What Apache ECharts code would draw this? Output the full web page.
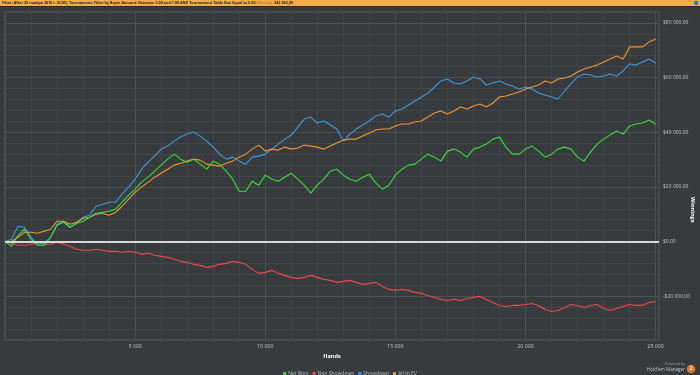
<!DOCTYPE html>
<html><head><meta charset="utf-8">
<script src="https://cdn.jsdelivr.net/npm/echarts@6/dist/echarts.min.js"></script>
<style>html,body{margin:0;padding:0;background:#383b3e;}#c{width:700px;height:375px;}</style>
</head><body><div id="c"></div>
<script>
const hands = [0,250,500,750,1000,1250,1500,1750,2000,2250,2500,2750,3000,3250,3500,3750,4000,4250,4500,4750,5000,5250,5500,5750,6000,6250,6500,6750,7000,7250,7500,7750,8000,8250,8500,8750,9000,9250,9500,9750,10000,10250,10500,10750,11000,11250,11500,11750,12000,12250,12500,12750,13000,13250,13500,13750,14000,14250,14500,14750,15000,15250,15500,15750,16000,16250,16500,16750,17000,17250,17500,17750,18000,18250,18500,18750,19000,19250,19500,19750,20000,20250,20500,20750,21000,21250,21500,21750,22000,22250,22500,22750,23000,23250,23500,23750,24000,24250,24500,24750,25000];
const netWon = [0,-1720,2310,4510,840,-1360,-1360,1580,5980,7080,5240,6710,7440,8910,10370,10740,11110,11840,14410,16970,19170,21740,23570,25770,27970,30170,32000,30170,29070,30170,28340,26500,29440,28340,25770,22840,18440,18440,22110,20640,24310,22840,22110,23570,25040,22840,20640,17710,20640,22840,25770,26500,24310,22840,22110,23570,24670,21370,19170,20640,24310,26500,27970,28340,30170,32000,30900,29440,33100,33840,32740,30900,33840,34570,35670,37500,38240,34570,32000,32000,33840,34940,33100,30900,32000,33840,34570,33840,30900,29440,32740,35670,37500,38970,40440,39340,42270,43000,43370,44470,43000];
const nonShowdown = [0,-620,-1360,-1360,-990,-620,-990,-990,-260,-990,-1720,-2820,-3190,-3190,-2820,-3190,-3560,-3560,-3920,-3560,-3920,-4660,-4290,-5020,-5390,-5760,-6490,-7220,-7590,-8320,-8690,-9420,-9060,-8320,-7960,-7220,-7590,-8320,-10150,-11620,-11250,-10520,-11620,-12350,-13090,-13450,-13090,-12350,-13090,-13820,-14190,-14920,-14550,-14190,-14920,-15650,-15290,-14920,-16390,-17490,-17850,-17490,-17850,-18590,-18950,-19690,-20420,-21150,-21520,-21150,-21520,-20790,-20420,-20050,-21150,-22250,-23350,-23720,-23350,-23350,-22990,-22620,-23350,-24820,-25550,-25190,-24090,-22990,-23350,-24090,-23350,-22990,-24450,-25190,-24450,-23720,-22990,-23350,-23350,-22250,-21890];
const showdown = [0,840,5610,5240,1580,-990,-620,1580,6340,7440,5240,6710,8910,9640,12940,13670,14410,14410,17340,19910,22840,26500,29070,31270,33840,34940,36770,38240,39340,40070,38600,36770,34570,32000,30170,30900,29440,28340,30900,31270,32000,33840,35670,37500,38970,41900,44840,45570,43370,44100,42640,41170,36770,39340,41170,42640,44100,45930,46670,45570,47770,48500,49970,51430,52900,54370,56570,58770,59500,58030,57670,58770,60230,59500,57300,58030,58770,57670,56930,55830,56570,55830,54370,53630,52900,52170,55100,57670,60230,61330,60970,60230,60600,61330,60600,62430,65000,64630,65730,66830,65360];
const allInEV = [0,110,1580,3410,3410,3040,3780,4510,7440,7440,6340,7080,8540,8910,10010,10370,9640,10740,12940,15510,18070,19910,21740,23570,25040,26500,27970,28700,29440,30170,29800,28340,27970,27600,28700,29440,30900,32000,33840,35300,33100,33840,33470,34570,33840,34200,35300,34940,34570,33840,34940,36040,37140,37500,37500,38600,39700,40800,41170,41170,42270,43000,43000,43730,44100,45570,47040,47770,46670,47770,49230,48500,49600,50330,49230,50700,52900,53270,54000,54730,55830,56570,57300,58770,58030,59500,59870,60600,62060,63170,63900,64630,65730,66830,67930,66830,71230,71230,71230,73060,74160];
const seriesNames = ['Net Won','Non Showdown','Showdown','All-In EV'];
const xTickLabels = ['5 000','10 000','15 000','20 000','25 000'];
const yTickLabels = ['-$20 000,00','$0,00','$20 000,00','$40 000,00','$60 000,00','$80 000,00'];
const headerText = 'Filter: After 25 ноября 2016 г. (0:00); Tournament: Filter by Buyin Amount: Between 5.00 and 7.00 AND Tournament Table Size Equal to 5.00 ';
const headerValue = '$42 036,00';

const colors = {net:'#33e033', ns:'#e84a4a', sd:'#3a9ade', ev:'#f2942e'};
const minor = '#43474b', major = '#4c5054';
const FONT = 'Open Sans';
function pts(arr){ return hands.map((h,i)=>[h, arr[i]]); }

// fit header text into the width it occupies in the bar
const mctx = document.createElement('canvas').getContext('2d');
mctx.font = 'bold 5px "Open Sans"';
let hw = mctx.measureText(headerText + headerValue).width;
mctx.font = '5px "Open Sans"';
hw += mctx.measureText('Winnings: ').width;
const headerScale = 291 / hw;

const chart = echarts.init(document.getElementById('c'), null, {renderer:'canvas'});
chart.setOption({
  backgroundColor:'#383b3e',
  animation:false,
  textStyle:{fontFamily:FONT},
  grid:{left:5, right:41, top:12, bottom:35, show:true, borderColor:'#565a5e', borderWidth:1, backgroundColor:'transparent'},
  legend:{
    data:seriesNames, left:'center', top:366, icon:'rect', itemWidth:3, itemHeight:3, itemGap:4,
    textStyle:{color:'#b8bcc0', fontSize:5, fontFamily:FONT, padding:[0,0,0,-3]}
  },
  xAxis:{
    type:'value', min:0, max:25130, interval:1000,
    axisLine:{show:false}, axisTick:{show:false},
    splitLine:{show:true, lineStyle:{color:[major,minor,minor,minor,minor], width:1}},
    axisLabel:{color:'#c0c4c8', fontSize:5.3, fontFamily:FONT, margin:4,
      formatter:v=>{ if(v>0 && v%5000===0){ return xTickLabels[v/5000-1]; } return ''; }},
    name:'Hands', nameLocation:'middle', nameGap:12,
    nameTextStyle:{color:'#ffffff', fontSize:5.5, fontWeight:'bold', fontFamily:FONT}
  },
  yAxis:{
    type:'value', position:'right', min:-36000, max:84000, interval:4000,
    axisLine:{show:false}, axisTick:{show:false},
    splitLine:{show:true, lineStyle:{color:[minor,minor,minor,minor,major], width:1}},
    axisLabel:{color:'#c0c4c8', fontSize:5, fontFamily:FONT, margin:4,
      formatter:v=>{ if(v%20000===0 && v>=-20000 && v<=80000){ return yTickLabels[(v+20000)/20000]; } return ''; }}
  },
  series:[
    {name:'Non Showdown', type:'line', data:pts(nonShowdown), showSymbol:false, lineStyle:{color:colors.ns,width:1.1}, itemStyle:{color:colors.ns}, z:2},
    {name:'Showdown', type:'line', data:pts(showdown), showSymbol:false, lineStyle:{color:colors.sd,width:1.1}, itemStyle:{color:colors.sd}, z:2},
    {name:'All-In EV', type:'line', data:pts(allInEV), showSymbol:false, lineStyle:{color:colors.ev,width:1.1}, itemStyle:{color:colors.ev}, z:3},
    {name:'Net Won', type:'line', data:pts(netWon), showSymbol:false, lineStyle:{color:colors.net,width:1.1}, itemStyle:{color:colors.net}, z:4,
      markLine:{silent:true, symbol:'none', label:{show:false}, lineStyle:{color:'#d8d8d8', width:2, type:'solid'}, data:[{yAxis:0}], z:10}}
  ],
  graphic:[
    {type:'rect', left:0, top:0, shape:{width:700, height:6}, style:{fill:'#f2ad4a'}, z:100},
    {type:'rect', left:0, top:6, shape:{width:700, height:1}, style:{fill:'#2a2c2e'}, z:100},
    {type:'text', x:2, y:0.7, scaleX:headerScale, scaleY:0.85, z:101, style:{
      text:'{a|'+headerText+'}{b|Winnings: }{a|'+headerValue+'}',
      rich:{a:{fontSize:5, fontWeight:'bold', fill:'#2a2520', fontFamily:FONT}, b:{fontSize:5, fill:'#8a6a3a', fontFamily:FONT}}
    }},
    {type:'circle', shape:{cx:696, cy:3, r:2.3}, style:{fill:'#2f7fd0'}, z:101},
    {type:'text', left:690, top:197, rotation:-Math.PI/2, z:50, style:{text:'Winnings', fontSize:5.5, fontWeight:'bold', fill:'#ffffff', fontFamily:FONT}},
    {type:'text', right:15, top:362, z:50, style:{text:'Powered by', fontSize:3.6, fill:'#9a9ea2', fontFamily:FONT}},
    {type:'text', right:15, top:367.5, z:50, style:{text:"Hold'em Manager", fontSize:4.6, fill:'#c0c4c8', fontFamily:FONT}},
    {type:'circle', shape:{cx:691, cy:369, r:4.3}, style:{fill:'#e8702a'}, z:50},
    {type:'text', left:689.4, top:365.8, z:51, style:{text:'2', fontSize:5.2, fontWeight:'bold', fill:'#ffffff', fontFamily:FONT}}
  ]
});
</script>
</body></html>
